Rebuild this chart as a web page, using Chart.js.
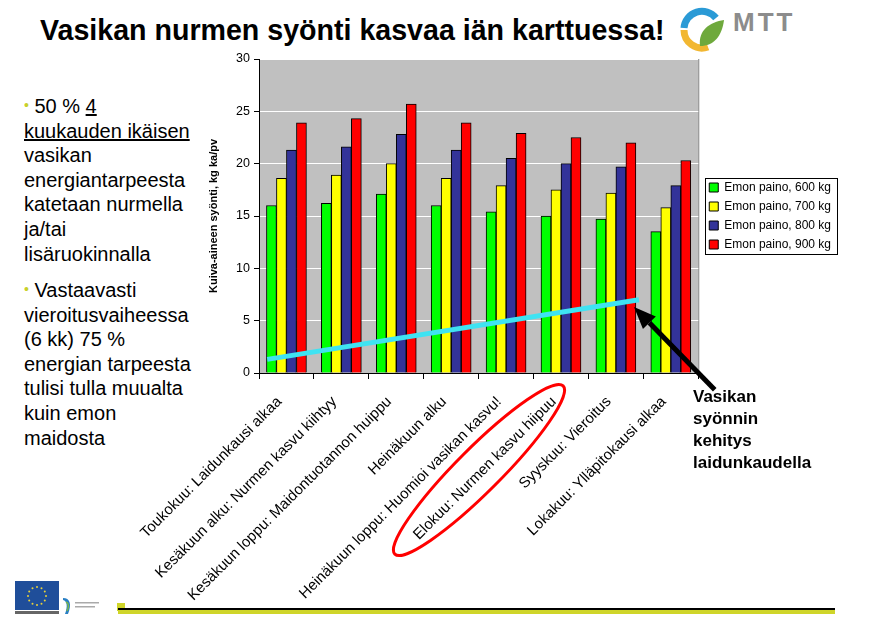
<!DOCTYPE html>
<html>
<head>
<meta charset="utf-8">
<script src="https://cdn.jsdelivr.net/npm/chart.js@4.4.1/dist/chart.umd.min.js"></script>
<style>
  body { margin: 0; background: #fff; font-family: "Liberation Sans", Arial, sans-serif; }
  #page { position: relative; width: 885px; height: 631px; overflow: hidden; }
  #title { position: absolute; left: 40px; top: 14px; font-size: 28.6px; font-weight: bold; color: #000; white-space: nowrap; }
  .bullets { position: absolute; left: 24px; width: 190px; font-size: 20px; line-height: 24.6px; color: #000; }
  .dot { color: #c8d02a; font-size: 14px; vertical-align: 3px; }
  #note { position: absolute; left: 693px; top: 386px; font-size: 17px; font-weight: bold; line-height: 22px; color: #000; }
  #wrap { position: absolute; left: 120px; top: 40px; width: 720px; height: 575px; }
  #footline { position: absolute; left: 118px; top: 608px; width: 717px; height: 2px; background: #000; }
  #footbar { position: absolute; left: 118px; top: 610px; width: 717px; height: 4px; background: #cfd52a; }
  #footsq { position: absolute; left: 117px; top: 603px; width: 8px; height: 8px; background: #cfd52a; }
  #eu { position: absolute; left: 15px; top: 581px; }
  #small { position: absolute; left: 60px; top: 596px; }
  #mtt { position: absolute; left: 678px; top: 6px; }
</style>
</head>
<body>
<div id="page">
  <div id="title">Vasikan nurmen syönti kasvaa iän karttuessa!</div>
  <svg id="mtt" width="150" height="50" viewBox="0 0 150 50">
    <path d="M6 22 A18 18 0 0 1 38 12" fill="none" stroke="#2a9ad6" stroke-width="7"/>
    <path d="M6 24 A18 18 0 0 0 30 41" fill="none" stroke="#f2b731" stroke-width="7"/>
    <path d="M22 40 C20 24 32 16 46 14 C44 30 36 40 22 40 Z" fill="#6ea93c"/>
    <text x="55" y="25" font-family="Liberation Sans, Arial" font-weight="bold" font-size="26" letter-spacing="3" fill="#8c8c8c">MTT</text>
  </svg>
  <div class="bullets" style="top:93px">
    <span class="dot">•</span> 50 % <u>4<br>kuukauden ikäisen</u><br>vasikan<br>energiantarpeesta<br>katetaan nurmella<br>ja/tai<br>lisäruokinnalla
  </div>
  <div class="bullets" style="top:277px">
    <span class="dot">•</span> Vastaavasti<br>vieroitusvaiheessa<br>(6 kk) 75 %<br>energian tarpeesta<br>tulisi tulla muualta<br>kuin emon<br>maidosta
  </div>
  <div id="wrap"><canvas id="chart"></canvas></div>
  <div id="note">Vasikan<br>syönnin<br>kehitys<br>laidunkaudella</div>
  <svg id="eu" width="44" height="34" viewBox="0 0 44 34">
    <rect x="0" y="0" width="44" height="29" fill="#1f4e9a"/>
    <g fill="#e8d23a">
      <circle cx="22" cy="6" r="1"/><circle cx="26.5" cy="7.2" r="1"/><circle cx="29.8" cy="10.5" r="1"/>
      <circle cx="31" cy="15" r="1"/><circle cx="29.8" cy="19.5" r="1"/><circle cx="26.5" cy="22.8" r="1"/>
      <circle cx="22" cy="24" r="1"/><circle cx="17.5" cy="22.8" r="1"/><circle cx="14.2" cy="19.5" r="1"/>
      <circle cx="13" cy="15" r="1"/><circle cx="14.2" cy="10.5" r="1"/><circle cx="17.5" cy="7.2" r="1"/>
    </g>
    <rect x="0" y="30" width="44" height="3" fill="#666"/>
  </svg>
  <svg id="small" width="56" height="20" viewBox="0 0 56 20">
    <path d="M3 2 C10 2 12 8 8 18 L5 18 C8 10 7 5 3 4 Z" fill="#2a7fc4"/>
    <path d="M6 6 C9 7 9 11 7 15" fill="none" stroke="#7ab648" stroke-width="1.5"/>
    <rect x="15" y="6" width="24" height="1.5" fill="#aaa"/>
    <rect x="15" y="10" width="20" height="1.5" fill="#aaa"/>
  </svg>
  <div id="footsq"></div>
  <div id="footline"></div>
  <div id="footbar"></div>
</div>
<script>
const categories = [
  "Toukokuu: Laidunkausi alkaa",
  "Kesäkuun alku: Nurmen kasvu kiihtyy",
  "Kesäkuun loppu: Maidontuotannon huippu",
  "Heinäkuun alku",
  "Heinäkuun loppu: Huomioi vasikan kasvu!",
  "Elokuu: Nurmen kasvu hiipuu",
  "Syyskuu: Vieroitus",
  "Lokakuu: Ylläpitokausi alkaa"
];
const seriesNames = ["Emon paino, 600 kg", "Emon paino, 700 kg", "Emon paino, 800 kg", "Emon paino, 900 kg"];
const emo600 = [16.0, 16.2, 17.1, 16.0, 15.4, 15.0, 14.7, 13.5];
const emo700 = [18.6, 18.9, 20.0, 18.6, 17.9, 17.5, 17.2, 15.8];
const emo800 = [21.3, 21.6, 22.8, 21.3, 20.5, 20.0, 19.7, 17.9];
const emo900 = [23.9, 24.3, 25.7, 23.9, 22.9, 22.5, 22.0, 20.3];
const seriesColors = ["#00ff00", "#ffff00", "#333399", "#ff0000"];
// trend of the calf's intake over the grazing season (x in category index units)
const trendLine = [{ x: -0.35, y: 1.3 }, { x: 6.42, y: 7.0 }];
// arrow pointing at the end of the trend line
const arrowTail = { x: 7.8, y: -1.6 };
const arrowTip = { x: 6.33, y: 6.3 };
const yTicks = { min: 0, max: 30, step: 5 };

const seriesValues = [emo600, emo700, emo800, emo900];
const FONT = "Liberation Sans, Arial";

// plot background, frame, trend line, arrow, ellipse and legend box
const decorations = {
  id: "decorations",
  afterLayout(chart) {
    chart.legend.left += 4;
    chart.legend.right += 4;
  },
  beforeDraw(chart) {
    const { ctx, chartArea: a } = chart;
    ctx.save();
    ctx.fillStyle = "#c0c0c0";
    ctx.fillRect(a.left, a.top, a.right - a.left, a.bottom - a.top);
    ctx.strokeStyle = "#808080";
    ctx.lineWidth = 1;
    ctx.strokeRect(a.left + 0.5, a.top + 0.5, a.right - a.left, a.bottom - a.top);
    ctx.restore();
  },
  afterDatasetsDraw(chart) {
    const { ctx, scales: { x, y } } = chart;
    ctx.save();
    ctx.strokeStyle = "#3fe3f2";
    ctx.lineWidth = 5;
    ctx.beginPath();
    trendLine.forEach((p, i) => {
      const px = x.getPixelForValue(p.x), py = y.getPixelForValue(p.y);
      if (i === 0) ctx.moveTo(px, py); else ctx.lineTo(px, py);
    });
    ctx.stroke();
    ctx.restore();
  },
  afterDraw(chart) {
    const { ctx, chartArea: a, scales: { x, y } } = chart;
    ctx.save();
    // arrow
    const tx = x.getPixelForValue(arrowTip.x), ty = y.getPixelForValue(arrowTip.y);
    const sx = x.getPixelForValue(arrowTail.x), sy = y.getPixelForValue(arrowTail.y);
    const ang = Math.atan2(ty - sy, tx - sx);
    const head = 22, hw = 9;
    const bx = tx - head * Math.cos(ang), by = ty - head * Math.sin(ang);
    ctx.strokeStyle = "#000";
    ctx.lineWidth = 5;
    ctx.beginPath();
    ctx.moveTo(sx, sy);
    ctx.lineTo(bx, by);
    ctx.stroke();
    ctx.fillStyle = "#000";
    ctx.beginPath();
    ctx.moveTo(tx, ty);
    ctx.lineTo(bx + hw * Math.sin(ang), by - hw * Math.cos(ang));
    ctx.lineTo(bx - hw * Math.sin(ang), by + hw * Math.cos(ang));
    ctx.closePath();
    ctx.fill();
    // red ellipse around "Elokuu" label
    const cx = x.getPixelForTick(5) - 82, cy = a.bottom + 97;
    ctx.strokeStyle = "#ff0000";
    ctx.lineWidth = 3;
    ctx.beginPath();
    ctx.ellipse(cx, cy, 119, 22, -45 * Math.PI / 180, 0, Math.PI * 2);
    ctx.stroke();
    // legend frame
    const boxes = chart.legend.legendHitBoxes;
    if (boxes && boxes.length) {
      let l = Infinity, t = Infinity, r = -Infinity, b = -Infinity;
      boxes.forEach(h => { l = Math.min(l, h.left); t = Math.min(t, h.top); r = Math.max(r, h.left + h.width); b = Math.max(b, h.top + h.height); });
      ctx.strokeStyle = "#000";
      ctx.lineWidth = 1;
      ctx.strokeRect(Math.round(l - 4) + 0.5, Math.round(t - 4) + 0.5, Math.round(r - l + 10), Math.round(b - t + 7));
    }
    ctx.restore();
  }
};

const datasets = seriesValues.map((vals, i) => ({
  label: seriesNames[i],
  data: vals,
  backgroundColor: seriesColors[i],
  borderColor: "#000",
  borderWidth: 1,
  borderSkipped: "bottom",
  barThickness: 10
}));

new Chart(document.getElementById("chart"), {
  type: "bar",
  data: { labels: categories, datasets: datasets },
  plugins: [decorations],
  options: {
    responsive: true,
    maintainAspectRatio: false,
    animation: false,
    layout: { padding: { top: 19, right: 3, bottom: 2, left: 80 } },
    plugins: {
      tooltip: { enabled: false },
      legend: {
        position: "right",
        fullSize: false,
        labels: {
          boxWidth: 9,
          boxHeight: 9,
          padding: 7,
          color: "#000",
          font: { family: FONT, size: 12 }
        }
      }
    },
    scales: {
      x: {
        type: "category",
        offset: true,
        afterFit: s => { s.height = 240; s.paddingLeft = 0; s.paddingRight = 0; },
        grid: { offset: true, drawOnChartArea: false, drawTicks: true, tickLength: 6, tickColor: "#000" },
        border: { display: true, color: "#000", width: 1 },
        ticks: {
          autoSkip: false, minRotation: 45, maxRotation: 45, color: "#000",
          padding: 14, labelOffset: -7,
          font: { family: FONT, size: 15 }
        }
      },
      y: {
        min: yTicks.min,
        max: yTicks.max,
        afterFit: s => { s.width = 59; },
        ticks: { stepSize: yTicks.step, color: "#000", padding: 4, font: { family: FONT, size: 12.5 } },
        grid: { color: "#ffffff", lineWidth: 1, tickColor: "#000", tickLength: 5 },
        border: { display: true, color: "#000", width: 1 },
        title: {
          display: true,
          text: "Kuiva-aineen syönti, kg ka/pv",
          color: "#000",
          font: { family: FONT, size: 11, weight: "bold" },
          padding: { top: 7, bottom: 0 }
        }
      }
    }
  }
});
</script>
</body>
</html>
